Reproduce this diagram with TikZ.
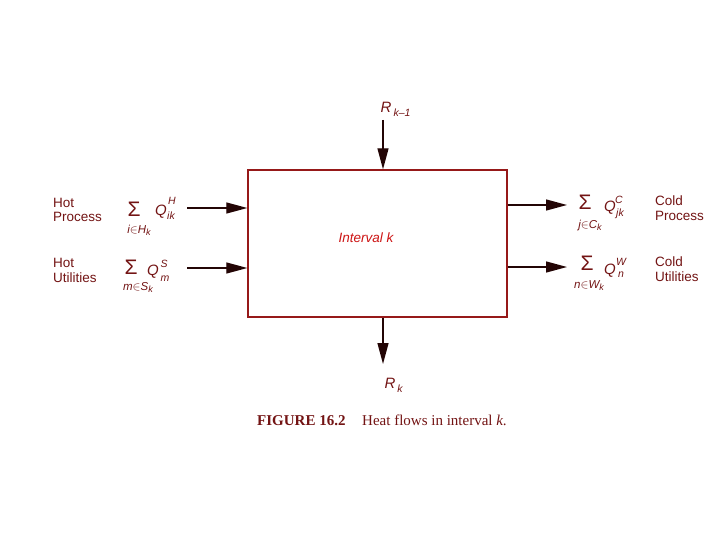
\documentclass[tikz,border=0pt]{standalone}
\usepackage{fontspec}
\setmainfont{Liberation Serif}
\setsansfont{Liberation Sans}
\usetikzlibrary{arrows.meta}
\definecolor{txtred}{RGB}{115,20,20}
\definecolor{boxred}{RGB}{150,25,25}
\definecolor{arrdark}{RGB}{35,5,5}
\definecolor{brightred}{RGB}{205,20,20}
\begin{document}
\begin{tikzpicture}[x=1pt,y=-1pt,
  lbl/.style={font=\sffamily\fontsize{13.5}{14.5}\selectfont, text=txtred, inner sep=0, anchor=west, align=left},
  sig/.style={font=\sffamily\fontsize{21}{21}\selectfont, text=txtred, inner sep=0, text height=15pt, text depth=0pt},
  qq/.style={font=\sffamily\itshape\fontsize{15}{15}\selectfont, text=txtred, inner sep=0},
  sm/.style={font=\sffamily\itshape\fontsize{10.5}{10.5}\selectfont, text=txtred, inner sep=0},
  sub/.style={font=\sffamily\itshape\fontsize{11.5}{11.5}\selectfont, text=txtred, inner sep=0, text height=8.5pt, text depth=2pt},
  flow/.style={draw=arrdark, line width=1.3pt, -{Triangle[length=21pt,width=11pt]}},
  captxt/.style={text=txtred, inner sep=0, anchor=base west},
]
\useasboundingbox (0,0) rectangle (720,540);
\fill[white] (0,0) rectangle (720,540);

% box
\node[draw=boxred, line width=1.4pt, minimum width=259pt, minimum height=147pt, inner sep=0] (box) at (377.5,243.5) {};
\node[font=\sffamily\itshape\fontsize{13.5}{14}\selectfont, text=brightred, inner sep=0] (intv) at (366,238) {Interval k};

% arrow coordinates
\coordinate (tin) at (383,120);
\coordinate (bout) at (383,364);
\coordinate (hpin) at (187,208);
\coordinate (huin) at (187,268);
\coordinate (cpout) at (567,205);
\coordinate (cuout) at (567,267);

\draw[flow] (tin) -- (tin |- box.north);
\draw[flow] (bout |- box.south) -- (bout);
\draw[flow] (hpin) -- (hpin -| box.west);
\draw[flow] (huin) -- (huin -| box.west);
\draw[flow] (cpout -| box.east) -- (cpout);
\draw[flow] (cuout -| box.east) -- (cuout);

% R labels
\node[qq] (rk1) at (386,107) {R};
\node[sm] (rk1s) at (402,113) {k\textendash1};
\node[qq] (rk) at (390,383) {R};
\node[sm] (rks) at (400,389) {k};

% left labels
\node[lbl] (hp) at (53,210) {Hot\\Process};
\node[lbl] (hu) at (53,270.5) {Hot\\Utilities};

% left sums
\node[sig] (s1) at (134,209) {Σ};
\node[qq] (q1) at (161,212) {Q};
\node[sm] (q1h) at (172,201) {H};
\node[sm] (q1s) at (171,216) {ik};
\node[sub] (s1s) at (139,230) {i$\in$H\raisebox{-2.5pt}{\fontsize{9}{9}\selectfont k}};

\node[sig] (s2) at (131,267) {Σ};
\node[qq] (q2) at (153,272) {Q};
\node[sm] (q2h) at (164,264) {S};
\node[sm] (q2s) at (165,279) {m};
\node[sub] (s2s) at (138,287) {m$\in$S\raisebox{-2.5pt}{\fontsize{9}{9}\selectfont k}};

% right sums
\node[sig] (s3) at (585,202) {Σ};
\node[qq] (q3) at (610,208) {Q};
\node[sm] (q3h) at (619,200) {C};
\node[sm] (q3s) at (620,214) {jk};
\node[sub] (s3s) at (590,225) {j$\in$C\raisebox{-2.5pt}{\fontsize{9}{9}\selectfont k}};

\node[sig] (s4) at (587,263) {Σ};
\node[qq] (q4) at (610,271) {Q};
\node[sm] (q4h) at (621,262) {W};
\node[sm] (q4s) at (621,275) {n};
\node[sub] (s4s) at (589,285) {n$\in$W\raisebox{-2.5pt}{\fontsize{9}{9}\selectfont k}};

% right labels
\node[lbl] (cp) at (655,208) {Cold\\Process};
\node[lbl] (cu) at (655,269) {Cold\\Utilities};

% caption
\node[captxt, font=\bfseries\fontsize{15}{15}\selectfont] (fig) at (257,425) {FIGURE 16.2};
\node[captxt, font=\fontsize{15}{15}\selectfont] (ctext) at (362,425) {Heat flows in interval \textit{k}.};
\end{tikzpicture}
\end{document}
